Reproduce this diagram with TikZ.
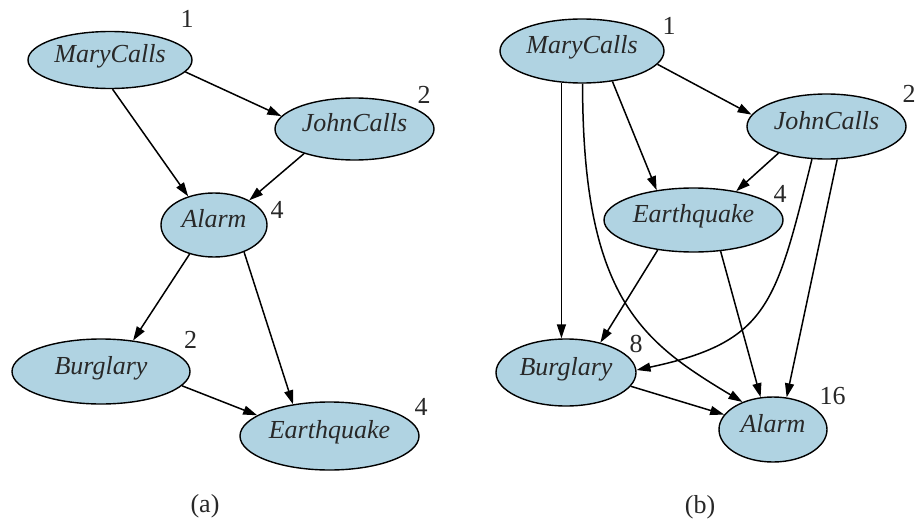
\documentclass[tikz,border=0pt]{standalone}
\usepackage{fontspec}
\IfFontExistsTF{LiberationSerif-Regular.ttf}{%
  \setmainfont{LiberationSerif}[Extension=.ttf, UprightFont=*-Regular,
    ItalicFont=*-Italic, BoldFont=*-Bold, BoldItalicFont=*-BoldItalic]}{%
  \setmainfont{Liberation Serif}}
\usepackage{xcolor}
\usetikzlibrary{arrows.meta, shapes.geometric}
\definecolor{nodeblue}{RGB}{176,211,226}
\definecolor{txtgray}{RGB}{40,40,40}

\begin{document}
\begin{tikzpicture}[x=1pt, y=-1pt,
    var/.style={ellipse, draw, line width=1.4pt, fill=nodeblue, inner sep=0pt,
        text=txtgray, font=\rmfamily\fontsize{26}{30}\selectfont\itshape,
        text height=0.6em, text depth=0.05em},
    num/.style={inner sep=0pt, text=txtgray, font=\rmfamily\fontsize{26}{30}\selectfont},
    edge/.style={-{Triangle[length=14pt, width=9pt]}, line width=1.5pt}]
    \useasboundingbox (0,0) rectangle (915,519);

    % (a) 节点
    \node[var, minimum width=164pt, minimum height=57pt] (am) at (110,60) {MaryCalls};
    \node[var, minimum width=159pt, minimum height=62pt] (aj) at (354.5,129) {JohnCalls};
    \node[var, minimum width=106pt, minimum height=64pt] (aa) at (214,225) {Alarm};
    \node[var, minimum width=178pt, minimum height=65pt] (ab) at (101,371.5) {Burglary};
    \node[var, minimum width=179pt, minimum height=68pt] (ae) at (329.5,436) {Earthquake};

    % (a) 边
    \draw[edge] (am.-9.5) -- (aj.170.6);
    \draw[edge] (am.-85) -- (aa.132.5);
    \draw[edge] (aj.-154.7) -- (aa.35.8);
    \draw[edge] (aa.-130.6) -- (ab.44.9);
    \draw[edge] (aa.-42.4) -- (ae.139.9);
    \draw[edge] (ab.-10.8) -- (ae.164.9);

    % (a) 数字
    \node[num] (am-n) at (187,19) {1};
    \node[num] (aj-n) at (424,94.5) {2};
    \node[num] (aa-n) at (277,210) {4};
    \node[num] (ab-n) at (190.5,339.5) {2};
    \node[num] (ae-n) at (421,406.5) {4};
    \node[num] (cap-a) at (205,506) {(a)};

    % (b) 节点
    \node[var, minimum width=164pt, minimum height=64pt] (bm) at (582,51) {MaryCalls};
    \node[var, minimum width=159pt, minimum height=65pt] (bj) at (826.5,126.5) {JohnCalls};
    \node[var, minimum width=179pt, minimum height=64pt] (be) at (693.5,220) {Earthquake};
    \node[var, minimum width=140pt, minimum height=67pt] (bb) at (566,372.5) {Burglary};
    \node[var, minimum width=108pt, minimum height=65pt] (ba) at (773,429.5) {Alarm};

    % (b) 边
    \draw[edge] (bm.-10.4) -- (bj.171.3);
    \draw[edge] (bm.-45.9) -- (be.141.7);
    \draw[edge] (bm.-123) -- (bm.-123 |- bb.north);
    \draw[edge] (bm.-89) to[out=-90, in=149, out distance=215pt, in distance=117pt] (ba.138.2);
    \draw[edge] (bj.-151.7) -- (be.34.3);
    \draw[edge] (bj.-114.3) to[out=-104, in=12, out distance=150pt, in distance=135pt] (bb.2);
    \draw[edge] (bj.-72.7) -- (ba.67.3);
    \draw[edge] (be.-140.5) -- (bb.41);
    \draw[edge] (be.-49.7) -- (ba.111.2);
    \draw[edge] (bb.-12.2) -- (ba.163.7);

    % (b) 数字
    \node[num] (bm-n) at (669,26) {1};
    \node[num] (bj-n) at (909,93.5) {2};
    \node[num] (be-n) at (780,193.5) {4};
    \node[num] (bb-n) at (636,344) {8};
    \node[num] (ba-n) at (832.5,396.5) {16};
    \node[num] (cap-b) at (700,507) {(b)};
\end{tikzpicture}
\end{document}
